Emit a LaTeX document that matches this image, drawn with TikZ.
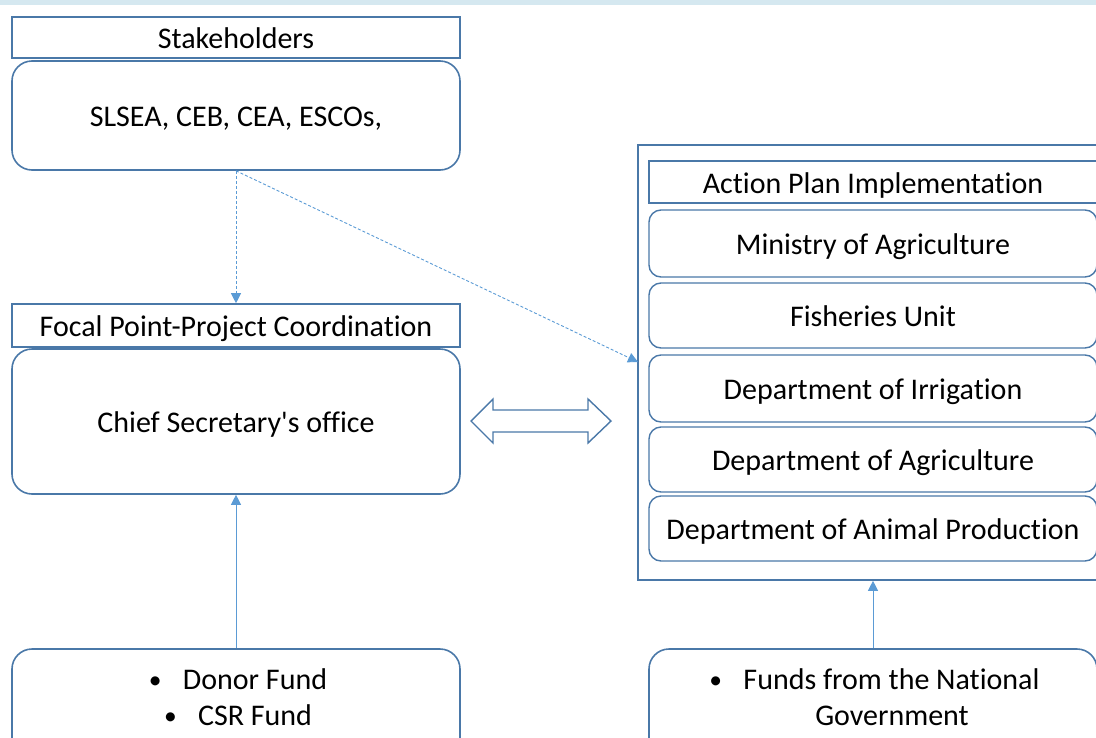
\documentclass[tikz,border=0pt]{standalone}
\usepackage{fontspec}
\setmainfont{Carlito}[Ligatures={NoCommon}]
\usetikzlibrary{arrows.meta}
\definecolor{boxline}{RGB}{74,120,168}
\definecolor{arrowc}{RGB}{91,155,213}
\definecolor{strip}{RGB}{213,232,240}
\tikzset{
  tfont/.style={font=\fontsize{30}{36}\selectfont, text height=22.6pt, text depth=0pt},
  hdr/.style={draw=boxline, line width=1.6pt, rectangle, inner sep=0pt, minimum width=448pt, tfont},
  rbox/.style={draw=boxline, line width=1.6pt, rectangle, rounded corners=20pt, inner sep=0pt, minimum width=448pt, tfont},
  sbox/.style={draw=boxline, line width=1.4pt, rectangle, rounded corners=12pt, inner sep=0pt, minimum width=448pt, tfont},
  txt/.style={inner sep=0pt, tfont},
  dasharrow/.style={draw=arrowc, line width=0.9pt, dash pattern=on 3pt off 2pt, -{Triangle[length=10pt,width=10pt]}},
  solidarrow/.style={draw=arrowc, line width=0.9pt, -{Triangle[length=10pt,width=10pt]}},
}
\newcommand{\bulletitem}[1]{\makebox[34pt][l]{\raisebox{1pt}{\scalebox{0.85}{\textbullet}}}#1}
\begin{document}
\begin{tikzpicture}[x=1pt,y=-1pt]
\useasboundingbox (0,0) rectangle (1096,737);
\clip (0,0) rectangle (1096,737);
\fill[strip] (0,0) rectangle (1096,5);
% left column
\node[hdr, minimum height=41pt] (sh) at (236,37.5) {Stakeholders};
\node[rbox, minimum height=109pt] (sl) at (236,115.5) {SLSEA, CEB, CEA, ESCOs,};
\node[hdr, minimum height=43pt] (fp) at (236,325.5) {Focal Point-Project Coordination};
\node[rbox, minimum height=145pt] (cs) at (236,421.5) {Chief Secretary\textquotesingle s office};
\node[rbox, minimum height=121pt] (df) at (236,709.5) {};
\node[txt] (df1) at (238,678.5) {\bulletitem{Donor Fund}};
\node[txt] (df2) at (238,714.5) {\bulletitem{CSR Fund}};
% right column
\node[draw=boxline, line width=1.6pt, rectangle, inner sep=0pt, minimum width=472pt, minimum height=435pt] (panel) at (874,362.5) {};
\node[hdr, minimum width=461pt, minimum height=42pt] (ap) at (879.5,182) {};
\node[txt] (apt) at (873,182) {Action Plan Implementation};
\node[sbox, minimum height=67pt] (moa) at (873,243.5) {Ministry of Agriculture};
\node[sbox, minimum height=65pt] (fu) at (873,315.5) {Fisheries Unit};
\node[sbox, minimum height=67pt] (doi) at (873,388.5) {Department of Irrigation};
\node[sbox, minimum height=65pt] (doa) at (873,459.5) {Department of Agriculture};
\node[sbox, minimum height=65pt] (dap) at (873,528.5) {Department of Animal Production};
\node[sbox, line width=1.6pt, rounded corners=20pt, minimum height=121pt] (ng) at (873,709.5) {};
\node[txt] (ng1) at (874.5,678.5) {\bulletitem{Funds from the National}};
\node[txt] (ng2) at (892,714.5) {Government};
% connectors
\coordinate (pin) at (638,362);
\draw[dasharrow] (sl.south) -- (fp.north);
\draw[dasharrow] (sl.south) -- (pin);
\draw[solidarrow] (df.north) -- (cs.south);
\draw[solidarrow] (ng.north) -- (panel.south -| ng.north);
% double block arrow
\draw[draw=boxline, line width=1.4pt, line join=miter]
  (471,421) -- (493,399) -- (493,410) -- (588,410) -- (588,399) -- (611,421)
  -- (588,443) -- (588,432) -- (493,432) -- (493,443) -- cycle;
\end{tikzpicture}
\end{document}
